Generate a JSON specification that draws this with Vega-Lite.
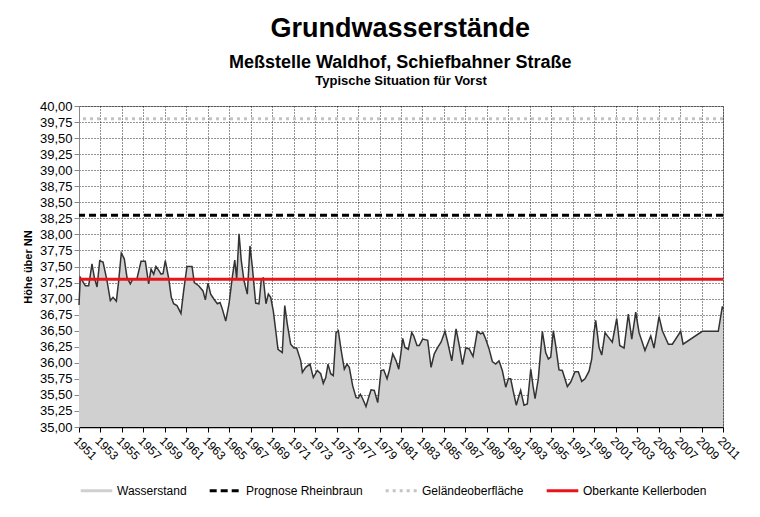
{
  "$schema": "https://vega.github.io/schema/vega-lite/v6.json",
  "background": "white",
  "padding": {"left": 21, "top": 14, "right": 22, "bottom": 8},
  "datasets": {
    "pegel": [
      {"jahr": 1951.00, "hoehe": 36.90, "serie": "Wasserstand"},
      {"jahr": 1951.12, "hoehe": 37.33, "serie": "Wasserstand"},
      {"jahr": 1951.59, "hoehe": 37.20, "serie": "Wasserstand"},
      {"jahr": 1951.90, "hoehe": 37.20, "serie": "Wasserstand"},
      {"jahr": 1952.21, "hoehe": 37.54, "serie": "Wasserstand"},
      {"jahr": 1952.43, "hoehe": 37.33, "serie": "Wasserstand"},
      {"jahr": 1952.68, "hoehe": 37.18, "serie": "Wasserstand"},
      {"jahr": 1952.93, "hoehe": 37.59, "serie": "Wasserstand"},
      {"jahr": 1953.24, "hoehe": 37.57, "serie": "Wasserstand"},
      {"jahr": 1953.61, "hoehe": 37.28, "serie": "Wasserstand"},
      {"jahr": 1953.92, "hoehe": 36.97, "serie": "Wasserstand"},
      {"jahr": 1954.17, "hoehe": 37.02, "serie": "Wasserstand"},
      {"jahr": 1954.48, "hoehe": 36.96, "serie": "Wasserstand"},
      {"jahr": 1954.70, "hoehe": 37.28, "serie": "Wasserstand"},
      {"jahr": 1954.94, "hoehe": 37.71, "serie": "Wasserstand"},
      {"jahr": 1955.22, "hoehe": 37.62, "serie": "Wasserstand"},
      {"jahr": 1955.47, "hoehe": 37.33, "serie": "Wasserstand"},
      {"jahr": 1955.78, "hoehe": 37.23, "serie": "Wasserstand"},
      {"jahr": 1956.03, "hoehe": 37.31, "serie": "Wasserstand"},
      {"jahr": 1956.40, "hoehe": 37.31, "serie": "Wasserstand"},
      {"jahr": 1956.78, "hoehe": 37.58, "serie": "Wasserstand"},
      {"jahr": 1957.18, "hoehe": 37.58, "serie": "Wasserstand"},
      {"jahr": 1957.49, "hoehe": 37.23, "serie": "Wasserstand"},
      {"jahr": 1957.71, "hoehe": 37.46, "serie": "Wasserstand"},
      {"jahr": 1957.96, "hoehe": 37.38, "serie": "Wasserstand"},
      {"jahr": 1958.17, "hoehe": 37.50, "serie": "Wasserstand"},
      {"jahr": 1958.43, "hoehe": 37.44, "serie": "Wasserstand"},
      {"jahr": 1958.64, "hoehe": 37.38, "serie": "Wasserstand"},
      {"jahr": 1958.83, "hoehe": 37.39, "serie": "Wasserstand"},
      {"jahr": 1959.04, "hoehe": 37.59, "serie": "Wasserstand"},
      {"jahr": 1959.36, "hoehe": 37.31, "serie": "Wasserstand"},
      {"jahr": 1959.60, "hoehe": 37.02, "serie": "Wasserstand"},
      {"jahr": 1959.82, "hoehe": 36.92, "serie": "Wasserstand"},
      {"jahr": 1960.13, "hoehe": 36.89, "serie": "Wasserstand"},
      {"jahr": 1960.50, "hoehe": 36.77, "serie": "Wasserstand"},
      {"jahr": 1960.75, "hoehe": 37.12, "serie": "Wasserstand"},
      {"jahr": 1961.06, "hoehe": 37.50, "serie": "Wasserstand"},
      {"jahr": 1961.53, "hoehe": 37.50, "serie": "Wasserstand"},
      {"jahr": 1961.74, "hoehe": 37.25, "serie": "Wasserstand"},
      {"jahr": 1962.15, "hoehe": 37.20, "serie": "Wasserstand"},
      {"jahr": 1962.55, "hoehe": 37.12, "serie": "Wasserstand"},
      {"jahr": 1962.77, "hoehe": 36.98, "serie": "Wasserstand"},
      {"jahr": 1963.02, "hoehe": 37.24, "serie": "Wasserstand"},
      {"jahr": 1963.27, "hoehe": 37.07, "serie": "Wasserstand"},
      {"jahr": 1963.58, "hoehe": 36.99, "serie": "Wasserstand"},
      {"jahr": 1963.89, "hoehe": 36.92, "serie": "Wasserstand"},
      {"jahr": 1964.14, "hoehe": 36.94, "serie": "Wasserstand"},
      {"jahr": 1964.35, "hoehe": 36.84, "serie": "Wasserstand"},
      {"jahr": 1964.67, "hoehe": 36.65, "serie": "Wasserstand"},
      {"jahr": 1964.98, "hoehe": 36.92, "serie": "Wasserstand"},
      {"jahr": 1965.28, "hoehe": 37.33, "serie": "Wasserstand"},
      {"jahr": 1965.51, "hoehe": 37.60, "serie": "Wasserstand"},
      {"jahr": 1965.69, "hoehe": 37.31, "serie": "Wasserstand"},
      {"jahr": 1965.91, "hoehe": 38.01, "serie": "Wasserstand"},
      {"jahr": 1966.12, "hoehe": 37.59, "serie": "Wasserstand"},
      {"jahr": 1966.37, "hoehe": 37.28, "serie": "Wasserstand"},
      {"jahr": 1966.68, "hoehe": 37.07, "serie": "Wasserstand"},
      {"jahr": 1966.93, "hoehe": 37.82, "serie": "Wasserstand"},
      {"jahr": 1967.15, "hoehe": 37.49, "serie": "Wasserstand"},
      {"jahr": 1967.46, "hoehe": 36.93, "serie": "Wasserstand"},
      {"jahr": 1967.77, "hoehe": 36.92, "serie": "Wasserstand"},
      {"jahr": 1967.99, "hoehe": 37.31, "serie": "Wasserstand"},
      {"jahr": 1968.17, "hoehe": 37.32, "serie": "Wasserstand"},
      {"jahr": 1968.42, "hoehe": 36.92, "serie": "Wasserstand"},
      {"jahr": 1968.64, "hoehe": 37.07, "serie": "Wasserstand"},
      {"jahr": 1968.86, "hoehe": 37.02, "serie": "Wasserstand"},
      {"jahr": 1969.10, "hoehe": 36.81, "serie": "Wasserstand"},
      {"jahr": 1969.33, "hoehe": 36.50, "serie": "Wasserstand"},
      {"jahr": 1969.54, "hoehe": 36.21, "serie": "Wasserstand"},
      {"jahr": 1969.94, "hoehe": 36.16, "serie": "Wasserstand"},
      {"jahr": 1970.17, "hoehe": 36.89, "serie": "Wasserstand"},
      {"jahr": 1970.41, "hoehe": 36.60, "serie": "Wasserstand"},
      {"jahr": 1970.72, "hoehe": 36.29, "serie": "Wasserstand"},
      {"jahr": 1971.03, "hoehe": 36.23, "serie": "Wasserstand"},
      {"jahr": 1971.28, "hoehe": 36.23, "serie": "Wasserstand"},
      {"jahr": 1971.66, "hoehe": 36.03, "serie": "Wasserstand"},
      {"jahr": 1971.81, "hoehe": 35.85, "serie": "Wasserstand"},
      {"jahr": 1972.12, "hoehe": 35.93, "serie": "Wasserstand"},
      {"jahr": 1972.52, "hoehe": 35.98, "serie": "Wasserstand"},
      {"jahr": 1972.83, "hoehe": 35.77, "serie": "Wasserstand"},
      {"jahr": 1973.20, "hoehe": 35.88, "serie": "Wasserstand"},
      {"jahr": 1973.52, "hoehe": 35.83, "serie": "Wasserstand"},
      {"jahr": 1973.76, "hoehe": 35.68, "serie": "Wasserstand"},
      {"jahr": 1973.99, "hoehe": 35.77, "serie": "Wasserstand"},
      {"jahr": 1974.20, "hoehe": 35.98, "serie": "Wasserstand"},
      {"jahr": 1974.45, "hoehe": 35.83, "serie": "Wasserstand"},
      {"jahr": 1974.69, "hoehe": 35.80, "serie": "Wasserstand"},
      {"jahr": 1974.95, "hoehe": 36.47, "serie": "Wasserstand"},
      {"jahr": 1975.16, "hoehe": 36.50, "serie": "Wasserstand"},
      {"jahr": 1975.41, "hoehe": 36.21, "serie": "Wasserstand"},
      {"jahr": 1975.72, "hoehe": 35.90, "serie": "Wasserstand"},
      {"jahr": 1975.97, "hoehe": 35.98, "serie": "Wasserstand"},
      {"jahr": 1976.18, "hoehe": 35.93, "serie": "Wasserstand"},
      {"jahr": 1976.50, "hoehe": 35.64, "serie": "Wasserstand"},
      {"jahr": 1976.81, "hoehe": 35.46, "serie": "Wasserstand"},
      {"jahr": 1977.02, "hoehe": 35.45, "serie": "Wasserstand"},
      {"jahr": 1977.21, "hoehe": 35.51, "serie": "Wasserstand"},
      {"jahr": 1977.43, "hoehe": 35.44, "serie": "Wasserstand"},
      {"jahr": 1977.74, "hoehe": 35.32, "serie": "Wasserstand"},
      {"jahr": 1977.95, "hoehe": 35.44, "serie": "Wasserstand"},
      {"jahr": 1978.21, "hoehe": 35.58, "serie": "Wasserstand"},
      {"jahr": 1978.51, "hoehe": 35.57, "serie": "Wasserstand"},
      {"jahr": 1978.83, "hoehe": 35.38, "serie": "Wasserstand"},
      {"jahr": 1979.14, "hoehe": 35.88, "serie": "Wasserstand"},
      {"jahr": 1979.39, "hoehe": 35.89, "serie": "Wasserstand"},
      {"jahr": 1979.70, "hoehe": 35.75, "serie": "Wasserstand"},
      {"jahr": 1979.91, "hoehe": 35.88, "serie": "Wasserstand"},
      {"jahr": 1980.23, "hoehe": 36.14, "serie": "Wasserstand"},
      {"jahr": 1980.54, "hoehe": 36.03, "serie": "Wasserstand"},
      {"jahr": 1980.79, "hoehe": 35.90, "serie": "Wasserstand"},
      {"jahr": 1981.00, "hoehe": 36.16, "serie": "Wasserstand"},
      {"jahr": 1981.16, "hoehe": 36.38, "serie": "Wasserstand"},
      {"jahr": 1981.37, "hoehe": 36.24, "serie": "Wasserstand"},
      {"jahr": 1981.68, "hoehe": 36.21, "serie": "Wasserstand"},
      {"jahr": 1982.00, "hoehe": 36.47, "serie": "Wasserstand"},
      {"jahr": 1982.18, "hoehe": 36.42, "serie": "Wasserstand"},
      {"jahr": 1982.49, "hoehe": 36.27, "serie": "Wasserstand"},
      {"jahr": 1982.71, "hoehe": 36.27, "serie": "Wasserstand"},
      {"jahr": 1983.02, "hoehe": 36.37, "serie": "Wasserstand"},
      {"jahr": 1983.49, "hoehe": 36.35, "serie": "Wasserstand"},
      {"jahr": 1983.80, "hoehe": 35.93, "serie": "Wasserstand"},
      {"jahr": 1984.10, "hoehe": 36.14, "serie": "Wasserstand"},
      {"jahr": 1984.42, "hoehe": 36.24, "serie": "Wasserstand"},
      {"jahr": 1984.73, "hoehe": 36.32, "serie": "Wasserstand"},
      {"jahr": 1985.10, "hoehe": 36.49, "serie": "Wasserstand"},
      {"jahr": 1985.35, "hoehe": 36.32, "serie": "Wasserstand"},
      {"jahr": 1985.73, "hoehe": 36.03, "serie": "Wasserstand"},
      {"jahr": 1986.13, "hoehe": 36.53, "serie": "Wasserstand"},
      {"jahr": 1986.43, "hoehe": 36.27, "serie": "Wasserstand"},
      {"jahr": 1986.73, "hoehe": 35.97, "serie": "Wasserstand"},
      {"jahr": 1987.03, "hoehe": 36.23, "serie": "Wasserstand"},
      {"jahr": 1987.34, "hoehe": 36.22, "serie": "Wasserstand"},
      {"jahr": 1987.71, "hoehe": 36.10, "serie": "Wasserstand"},
      {"jahr": 1988.11, "hoehe": 36.49, "serie": "Wasserstand"},
      {"jahr": 1988.43, "hoehe": 36.45, "serie": "Wasserstand"},
      {"jahr": 1988.64, "hoehe": 36.47, "serie": "Wasserstand"},
      {"jahr": 1988.89, "hoehe": 36.37, "serie": "Wasserstand"},
      {"jahr": 1989.20, "hoehe": 36.22, "serie": "Wasserstand"},
      {"jahr": 1989.51, "hoehe": 36.02, "serie": "Wasserstand"},
      {"jahr": 1989.82, "hoehe": 35.98, "serie": "Wasserstand"},
      {"jahr": 1990.13, "hoehe": 36.03, "serie": "Wasserstand"},
      {"jahr": 1990.44, "hoehe": 35.88, "serie": "Wasserstand"},
      {"jahr": 1990.76, "hoehe": 35.62, "serie": "Wasserstand"},
      {"jahr": 1991.00, "hoehe": 35.75, "serie": "Wasserstand"},
      {"jahr": 1991.22, "hoehe": 35.75, "serie": "Wasserstand"},
      {"jahr": 1991.44, "hoehe": 35.57, "serie": "Wasserstand"},
      {"jahr": 1991.74, "hoehe": 35.34, "serie": "Wasserstand"},
      {"jahr": 1992.00, "hoehe": 35.49, "serie": "Wasserstand"},
      {"jahr": 1992.15, "hoehe": 35.57, "serie": "Wasserstand"},
      {"jahr": 1992.46, "hoehe": 35.34, "serie": "Wasserstand"},
      {"jahr": 1992.77, "hoehe": 35.36, "serie": "Wasserstand"},
      {"jahr": 1993.09, "hoehe": 35.90, "serie": "Wasserstand"},
      {"jahr": 1993.30, "hoehe": 35.64, "serie": "Wasserstand"},
      {"jahr": 1993.49, "hoehe": 35.44, "serie": "Wasserstand"},
      {"jahr": 1993.79, "hoehe": 35.75, "serie": "Wasserstand"},
      {"jahr": 1994.17, "hoehe": 36.49, "serie": "Wasserstand"},
      {"jahr": 1994.48, "hoehe": 36.16, "serie": "Wasserstand"},
      {"jahr": 1994.73, "hoehe": 36.06, "serie": "Wasserstand"},
      {"jahr": 1994.95, "hoehe": 36.09, "serie": "Wasserstand"},
      {"jahr": 1995.19, "hoehe": 36.50, "serie": "Wasserstand"},
      {"jahr": 1995.41, "hoehe": 36.27, "serie": "Wasserstand"},
      {"jahr": 1995.72, "hoehe": 35.89, "serie": "Wasserstand"},
      {"jahr": 1996.03, "hoehe": 35.88, "serie": "Wasserstand"},
      {"jahr": 1996.50, "hoehe": 35.63, "serie": "Wasserstand"},
      {"jahr": 1996.81, "hoehe": 35.70, "serie": "Wasserstand"},
      {"jahr": 1997.21, "hoehe": 35.86, "serie": "Wasserstand"},
      {"jahr": 1997.52, "hoehe": 35.86, "serie": "Wasserstand"},
      {"jahr": 1997.84, "hoehe": 35.71, "serie": "Wasserstand"},
      {"jahr": 1998.14, "hoehe": 35.75, "serie": "Wasserstand"},
      {"jahr": 1998.52, "hoehe": 35.87, "serie": "Wasserstand"},
      {"jahr": 1998.77, "hoehe": 36.06, "serie": "Wasserstand"},
      {"jahr": 1998.98, "hoehe": 36.47, "serie": "Wasserstand"},
      {"jahr": 1999.14, "hoehe": 36.66, "serie": "Wasserstand"},
      {"jahr": 1999.45, "hoehe": 36.24, "serie": "Wasserstand"},
      {"jahr": 1999.70, "hoehe": 36.12, "serie": "Wasserstand"},
      {"jahr": 2000.01, "hoehe": 36.47, "serie": "Wasserstand"},
      {"jahr": 2000.32, "hoehe": 36.40, "serie": "Wasserstand"},
      {"jahr": 2000.69, "hoehe": 36.32, "serie": "Wasserstand"},
      {"jahr": 2001.10, "hoehe": 36.69, "serie": "Wasserstand"},
      {"jahr": 2001.38, "hoehe": 36.27, "serie": "Wasserstand"},
      {"jahr": 2001.78, "hoehe": 36.23, "serie": "Wasserstand"},
      {"jahr": 2002.18, "hoehe": 36.76, "serie": "Wasserstand"},
      {"jahr": 2002.50, "hoehe": 36.37, "serie": "Wasserstand"},
      {"jahr": 2002.87, "hoehe": 36.79, "serie": "Wasserstand"},
      {"jahr": 2003.18, "hoehe": 36.47, "serie": "Wasserstand"},
      {"jahr": 2003.73, "hoehe": 36.19, "serie": "Wasserstand"},
      {"jahr": 2004.27, "hoehe": 36.42, "serie": "Wasserstand"},
      {"jahr": 2004.57, "hoehe": 36.23, "serie": "Wasserstand"},
      {"jahr": 2005.04, "hoehe": 36.72, "serie": "Wasserstand"},
      {"jahr": 2005.35, "hoehe": 36.50, "serie": "Wasserstand"},
      {"jahr": 2005.91, "hoehe": 36.29, "serie": "Wasserstand"},
      {"jahr": 2006.28, "hoehe": 36.29, "serie": "Wasserstand"},
      {"jahr": 2007.06, "hoehe": 36.49, "serie": "Wasserstand"},
      {"jahr": 2007.28, "hoehe": 36.29, "serie": "Wasserstand"},
      {"jahr": 2009.07, "hoehe": 36.49, "serie": "Wasserstand"},
      {"jahr": 2010.56, "hoehe": 36.49, "serie": "Wasserstand"},
      {"jahr": 2010.94, "hoehe": 36.88, "serie": "Wasserstand"},
      {"jahr": 2011.00, "hoehe": 36.83, "serie": "Wasserstand"}
    ],
    "linien": [
      {"serie": "Prognose Rheinbraun", "wert": 38.30},
      {"serie": "Geländeoberfläche", "wert": 39.80},
      {"serie": "Oberkante Kellerboden", "wert": 37.30}
    ]
  },
  "title": {
    "text": "Grundwasserstände",
    "subtitle": "Meßstelle Waldhof, Schiefbahner Straße",
    "anchor": "middle",
    "dx": 18,
    "font": "Liberation Sans",
    "fontSize": 27,
    "fontWeight": "bold",
    "color": "black",
    "subtitleFont": "Liberation Sans",
    "subtitleFontSize": 18,
    "subtitleFontWeight": "bold",
    "subtitleColor": "black",
    "subtitlePadding": 11,
    "offset": 2
  },
  "vconcat": [
    {
      "title": {"text": "Typische Situation für Vorst", "anchor": "middle", "fontSize": 13, "fontWeight": "bold", "font": "Liberation Sans", "color": "black", "offset": 12},
      "width": 644,
      "height": 321,
      "layer": [
        {
          "data": {"name": "pegel"},
          "mark": {"type": "area", "opacity": 1},
          "encoding": {
            "x": {
              "field": "jahr", "type": "quantitative",
              "scale": {"domain": [1951, 2011], "nice": false, "zero": false},
              "axis": {
                "title": null,
                "values": [1951,1953,1955,1957,1959,1961,1963,1965,1967,1969,1971,1973,1975,1977,1979,1981,1983,1985,1987,1989,1991,1993,1995,1997,1999,2001,2003,2005,2007,2009,2011],
                "format": "d",
                "labelOverlap": false
              }
            },
            "y": {
              "field": "hoehe", "type": "quantitative",
              "scale": {"domain": [35, 40], "nice": false, "zero": false},
              "axis": {
                "title": "Höhe über NN",
                "values": [35,35.25,35.5,35.75,36,36.25,36.5,36.75,37,37.25,37.5,37.75,38,38.25,38.5,38.75,39,39.25,39.5,39.75,40],
                "labelExpr": "replace(format(datum.value, '.2f'), '.', ',')",
                "labelOverlap": false
              }
            },
            "y2": {"datum": 35},
            "color": {
              "field": "serie", "type": "nominal",
              "scale": {
                "domain": ["Wasserstand", "Prognose Rheinbraun", "Geländeoberfläche", "Oberkante Kellerboden"],
                "range": ["#d0d0d0", "#000000", "#c4c4c4", "#e8131b"]
              },
              "legend": {
                "title": null,
                "orient": "bottom",
                "direction": "horizontal",
                "symbolSize": 1000,
                "symbolType": "stroke",
                "symbolStrokeWidth": 3,
                "labelFontSize": 12,
                "labelFont": "Liberation Sans",
                "labelColor": "black",
                "columnPadding": 16,
                "labelOffset": 3,
                "offset": 10
              }
            }
          }
        },
        {
          "data": {"name": "pegel"},
          "mark": {"type": "line", "color": "#333333", "strokeWidth": 1.5},
          "encoding": {
            "x": {"field": "jahr", "type": "quantitative", "axis": {"title": null, "format": "d", "labelOverlap": false, "values": [1951,1953,1955,1957,1959,1961,1963,1965,1967,1969,1971,1973,1975,1977,1979,1981,1983,1985,1987,1989,1991,1993,1995,1997,1999,2001,2003,2005,2007,2009,2011]}},
            "y": {"field": "hoehe", "type": "quantitative", "axis": {"title": "Höhe über NN", "labelOverlap": false, "labelExpr": "replace(format(datum.value, '.2f'), '.', ',')", "values": [35,35.25,35.5,35.75,36,36.25,36.5,36.75,37,37.25,37.5,37.75,38,38.25,38.5,38.75,39,39.25,39.5,39.75,40]}}
          }
        },
        {
          "data": {"name": "linien"},
          "mark": {"type": "rule", "strokeWidth": 3},
          "encoding": {
            "y": {"field": "wert", "type": "quantitative", "axis": {"title": "Höhe über NN", "labelOverlap": false, "labelExpr": "replace(format(datum.value, '.2f'), '.', ',')", "values": [35,35.25,35.5,35.75,36,36.25,36.5,36.75,37,37.25,37.5,37.75,38,38.25,38.5,38.75,39,39.25,39.5,39.75,40]}},
            "color": {"field": "serie", "type": "nominal"},
            "strokeDash": {
              "field": "serie", "type": "nominal",
              "scale": {
                "domain": ["Wasserstand", "Prognose Rheinbraun", "Geländeoberfläche", "Oberkante Kellerboden"],
                "range": [[1, 0], [7, 4], [3, 4], [1, 0]]
              },
              "legend": {
                "title": null,
                "orient": "bottom",
                "direction": "horizontal",
                "symbolSize": 1000,
                "symbolType": "stroke",
                "symbolStrokeWidth": 3,
                "labelFontSize": 12,
                "labelFont": "Liberation Sans",
                "labelColor": "black",
                "columnPadding": 16,
                "labelOffset": 3,
                "offset": 10
              }
            }
          }
        }
      ]
    }
  ],
  "config": {
    "font": "Liberation Sans",
    "view": {"stroke": "#999999", "strokeWidth": 1},
    "axis": {
      "labelFont": "Liberation Sans",
      "labelColor": "black",
      "labelOverlap": false,
      "titleFont": "Liberation Sans",
      "titleColor": "black",
      "grid": true,
      "gridColor": "#000000",
      "gridDash": [1, 2],
      "gridOpacity": 0.85,
      "gridWidth": 1,
      "domainColor": "#888888",
      "tickColor": "#888888",
      "tickSize": 5
    },
    "axisX": {
      "labelFontSize": 12,
      "labelAngle": 45,
      "labelAlign": "left",
      "labelBaseline": "top",
      "labelPadding": 3,
      "domainColor": "black",
      "domainWidth": 1.5,
      "tickColor": "black"
    },
    "axisY": {
      "labelFontSize": 13,
      "titleFontWeight": "bold",
      "titleFontSize": 11,
      "titlePadding": 6
    }
  }
}
